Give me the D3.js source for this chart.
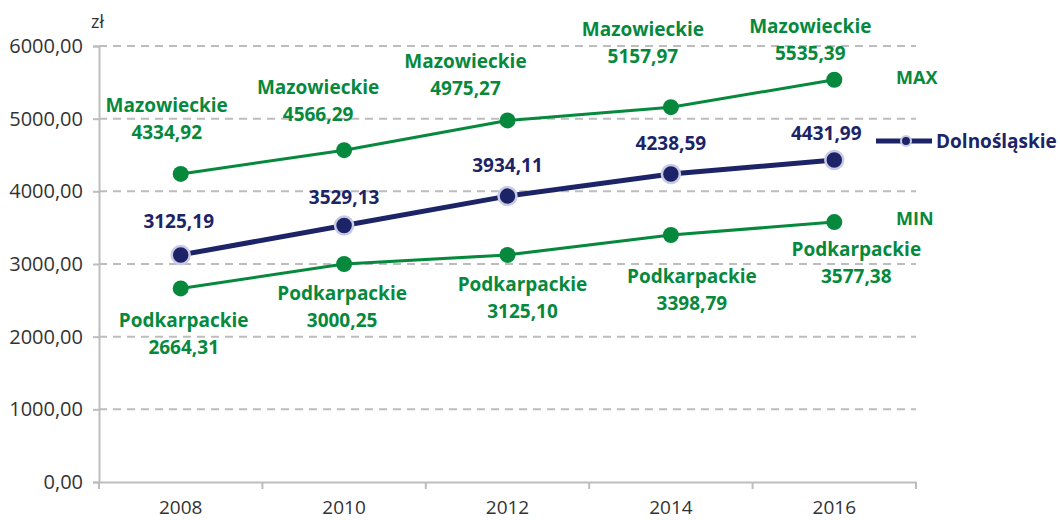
<!DOCTYPE html>
<html><head><meta charset="utf-8">
<script src="https://cdn.jsdelivr.net/npm/d3@7"></script>
<style>body{margin:0;background:#fff}svg{display:block}</style>
</head><body><svg id="c" width="1060" height="520"></svg>
<script>
const years = ["2008","2010","2012","2014","2016"];
const yTicks = [0,1000,2000,3000,4000,5000,6000];
const maxValues = [4240, 4566.29, 4975.27, 5157.97, 5535.39];
const maxLabels = ["4334,92","4566,29","4975,27","5157,97","5535,39"];
const maxRegion = "Mazowieckie";
const dolValues = [3125.19, 3529.13, 3934.11, 4238.59, 4431.99];
const dolLabels = ["3125,19","3529,13","3934,11","4238,59","4431,99"];
const dolRegion = "Dolnośląskie";
const minValues = [2664.31, 3000.25, 3125.10, 3398.79, 3577.38];
const minLabels = ["2664,31","3000,25","3125,10","3398,79","3577,38"];
const minRegion = "Podkarpackie";

// label layout offsets (px)
const maxOff = [[-14,-69],[-26,-63],[-42,-59],[-28,-78],[-24,-53]];
const dolOff = [[-2,-34],[0,-28],[0,-31],[0,-31],[-8,-27]];
const minOff = [[3,32],[-2,29],[15,29],[21,41],[22,27]];

const GREEN = "#06893d", NAVY = "#1c2467", GRID = "#bdbdbd";
const svg = d3.select("#c");
const L = 99, R = 916, T = 46, B = 482;
const x = d3.scaleBand().domain(years).range([L, R]);
const y = d3.scaleLinear().domain([0, 6000]).range([B, T]);
const cx = d => x(d) + x.bandwidth()/2;
const fmt = v => d3.format(".2f")(v).replace(".", ",");
const font = "'Open Sans', sans-serif";
const LFS = 19;

// gridlines
svg.append("g").selectAll("line").data(yTicks.filter(d => d > 0)).join("line")
  .attr("x1", L).attr("x2", R).attr("y1", d => y(d)).attr("y2", d => y(d))
  .attr("stroke", GRID).attr("stroke-width", 2).attr("stroke-dasharray", "8,6");

// y axis
const ya = svg.append("g").attr("transform", `translate(${L},0)`)
  .call(d3.axisLeft(y).tickValues(yTicks).tickFormat(fmt).tickSize(6).tickPadding(10));
ya.select(".domain").attr("stroke", GRID).attr("stroke-width", 2);
ya.selectAll(".tick line").attr("stroke", GRID).attr("stroke-width", 2);
ya.selectAll("text").attr("font-family", font).attr("font-size", 20).attr("fill", "#333");

// x axis
const xa = svg.append("g").attr("transform", `translate(0,${B})`)
  .call(d3.axisBottom(x).tickSize(0).tickPadding(19));
xa.select(".domain").attr("stroke", GRID).attr("stroke-width", 2);
xa.selectAll("text").attr("font-family", font).attr("font-size", 19).attr("fill", "#333");
svg.append("g").selectAll("line").data(d3.range(years.length + 1)).join("line")
  .attr("x1", i => L + i * x.step()).attr("x2", i => L + i * x.step())
  .attr("y1", B).attr("y2", B + 7).attr("stroke", GRID).attr("stroke-width", 2);

svg.append("text").attr("x", 91).attr("y", 28).text("zł")
  .attr("font-family", font).attr("font-size", 18).attr("fill", "#333");

const line = d3.line().x((d, i) => cx(years[i])).y(d => y(d));

function series(vals, color, w, r, halo) {
  svg.append("path").datum(vals).attr("d", line).attr("fill", "none")
    .attr("stroke", color).attr("stroke-width", w);
  svg.append("g").selectAll("circle").data(vals).join("circle")
    .attr("cx", (d, i) => cx(years[i])).attr("cy", d => y(d)).attr("r", r)
    .attr("fill", color).attr("stroke", halo || "none").attr("stroke-width", halo ? 2.5 : 0);
}
series(maxValues, GREEN, 3, 8);
series(minValues, GREEN, 3, 8);
series(dolValues, NAVY, 5, 9, "#c9cbe6");

function labels(vals, labs, off, color, name) {
  const g = svg.append("g").attr("font-family", font).attr("font-weight", 700)
    .attr("font-size", LFS).attr("fill", color).attr("text-anchor", "middle");
  vals.forEach((v, i) => {
    const px = cx(years[i]) + off[i][0], py = y(v) + off[i][1];
    if (name) {
      g.append("text").attr("x", px).attr("y", py).attr("dy", "0.35em").text(name);
      g.append("text").attr("x", px).attr("y", py + 27).attr("dy", "0.35em").text(labs[i]);
    } else {
      g.append("text").attr("x", px).attr("y", py).attr("dy", "0.35em").text(labs[i]);
    }
  });
}
labels(maxValues, maxLabels, maxOff, GREEN, maxRegion);
labels(minValues, minLabels, minOff, GREEN, minRegion);
labels(dolValues, dolLabels, dolOff, NAVY, null);

// MAX / MIN tags
svg.append("text").attr("x", 896).attr("y", 78).attr("dy", "0.35em").text("MAX")
  .attr("font-family", font).attr("font-weight", 700).attr("font-size", 18).attr("fill", GREEN);
svg.append("text").attr("x", 896).attr("y", 219).attr("dy", "0.35em").text("MIN")
  .attr("font-family", font).attr("font-weight", 700).attr("font-size", 18).attr("fill", GREEN);

// legend
const lg = svg.append("g").attr("transform", "translate(876,141)");
lg.append("line").attr("x1", 0).attr("x2", 56).attr("stroke", NAVY).attr("stroke-width", 5);
lg.append("circle").attr("cx", 30).attr("r", 5).attr("fill", NAVY).attr("stroke", "#c9cbe6").attr("stroke-width", 2);
lg.append("text").attr("x", 60).attr("dy", "0.35em").text(dolRegion)
  .attr("font-family", font).attr("font-weight", 700).attr("font-size", 19).attr("fill", NAVY);
</script></body></html>
